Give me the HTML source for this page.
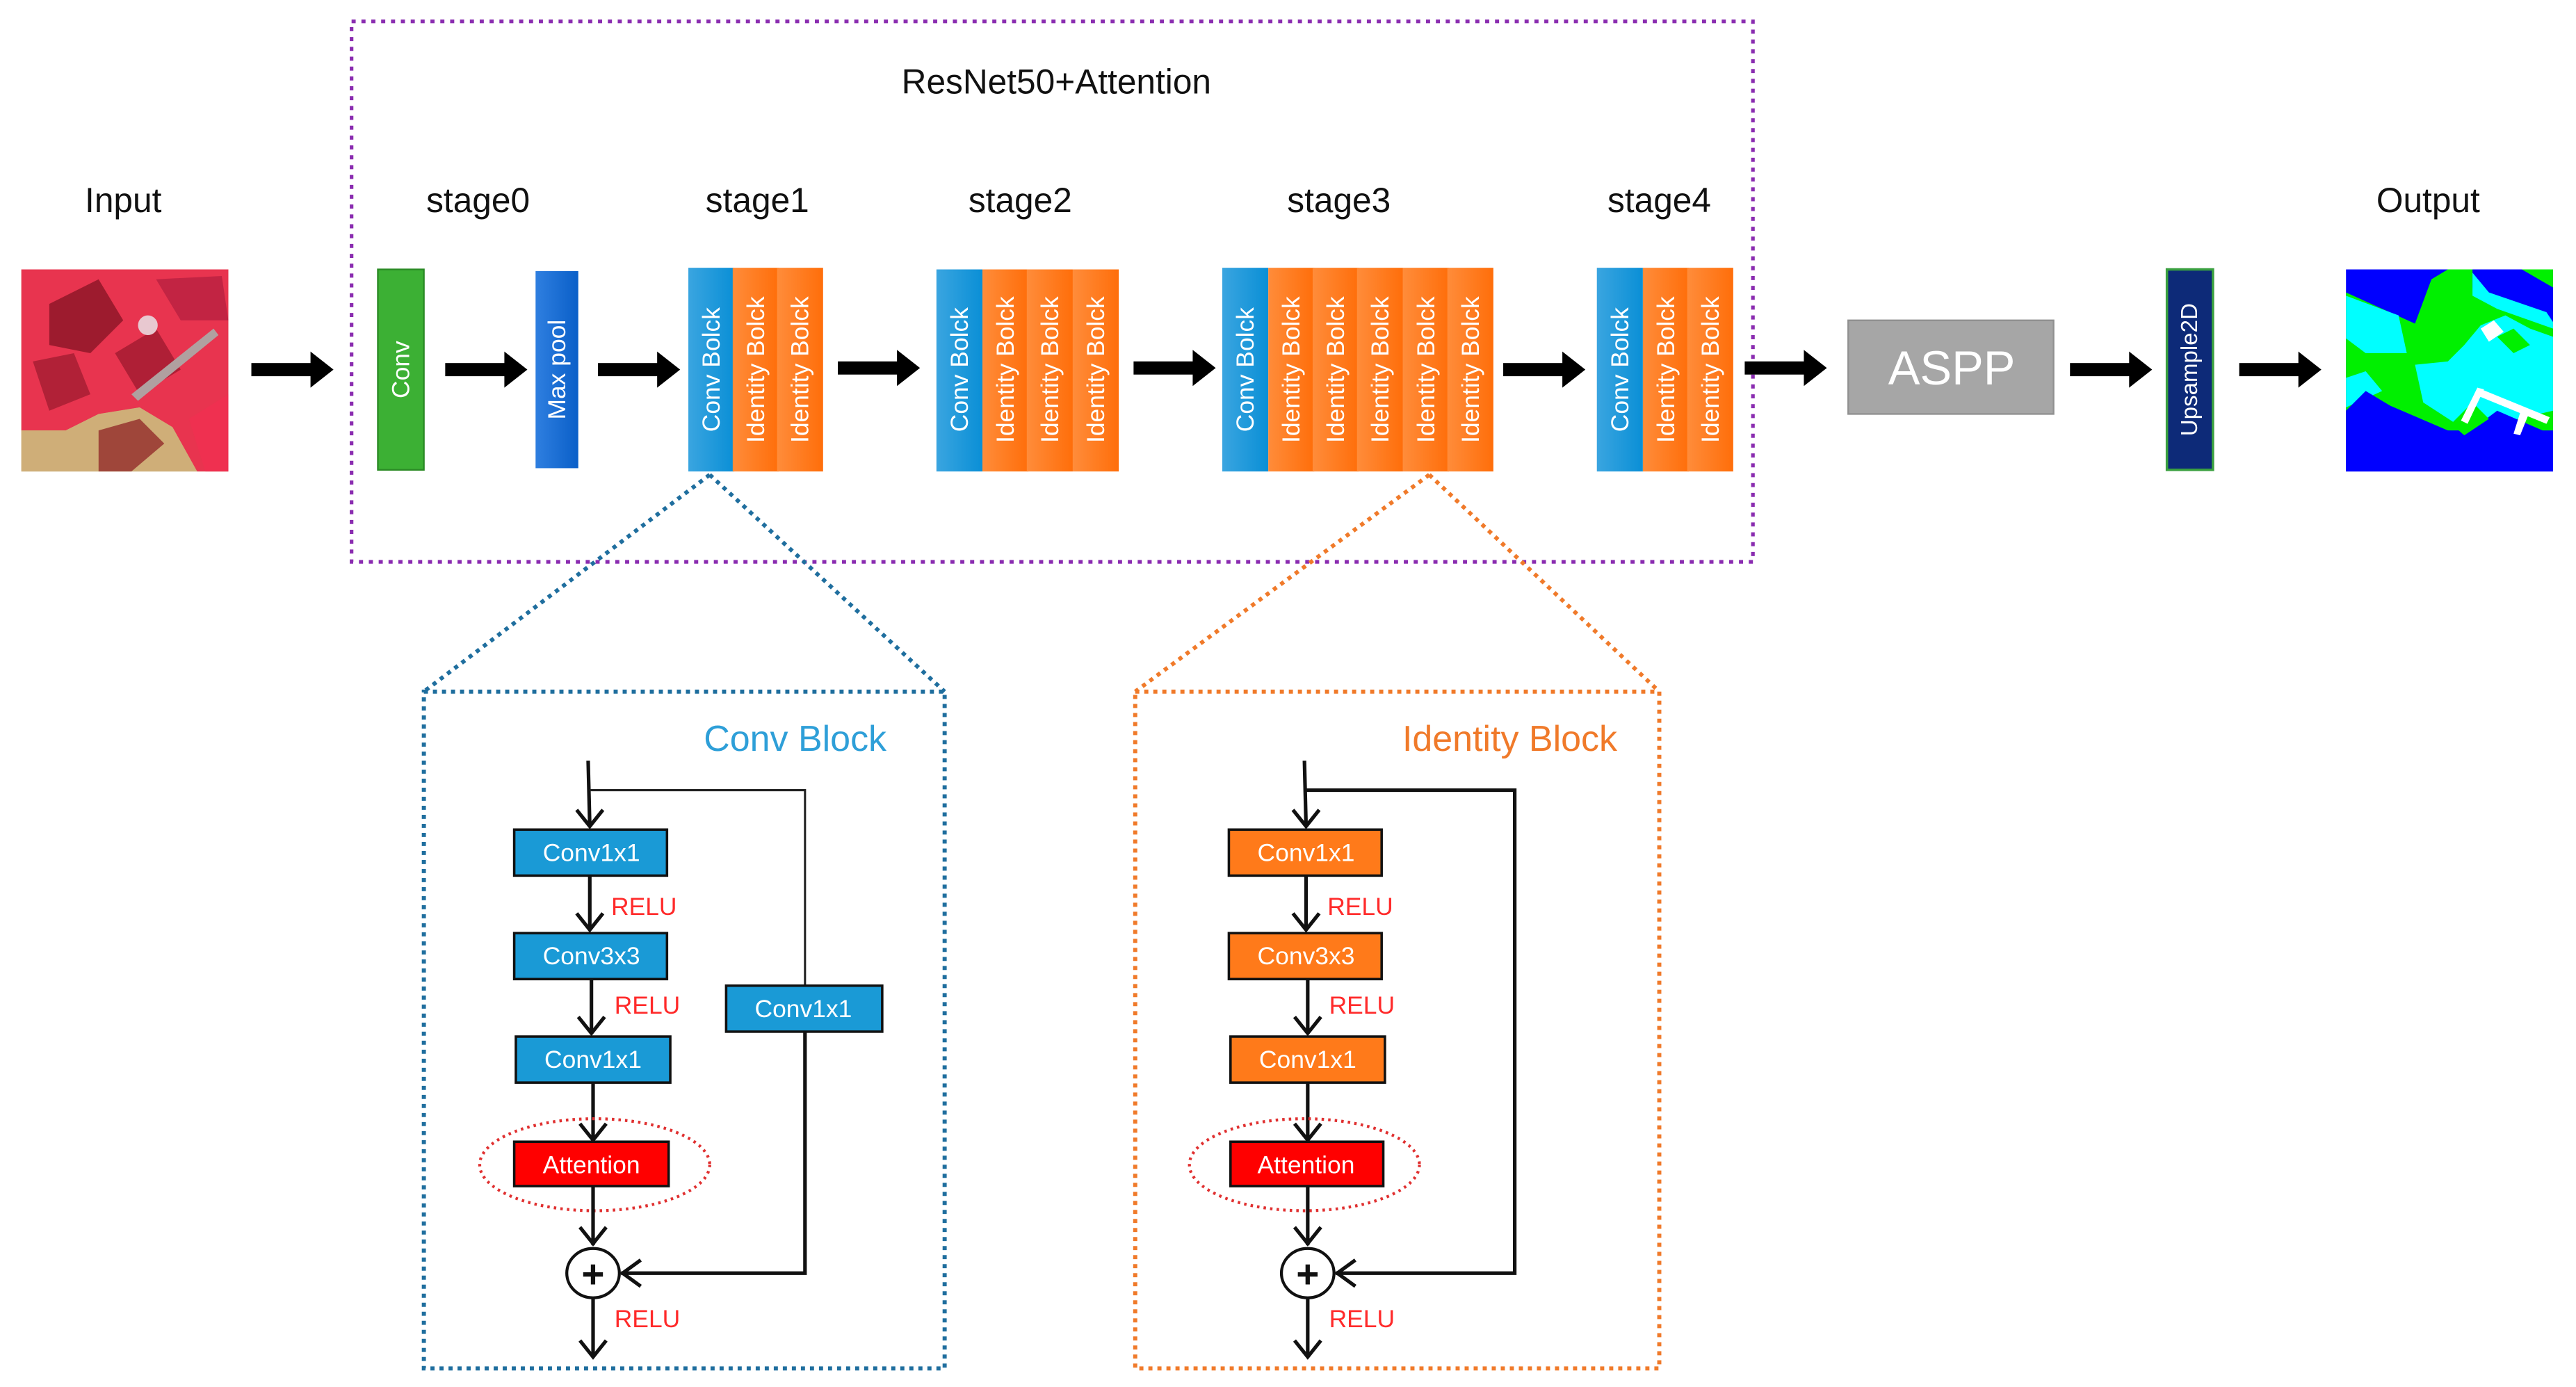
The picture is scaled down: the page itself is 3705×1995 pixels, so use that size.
<!DOCTYPE html>
<html><head><meta charset="utf-8"><style>
html,body{margin:0;padding:0;background:#fff;}
svg{display:block;}
text{font-family:"Liberation Sans",Arial,sans-serif;}
.vt{fill:#fff;font-size:15px;text-anchor:middle;dominant-baseline:central;}
.lbl{font-size:21px;text-anchor:middle;fill:#111;}
.bx{font-size:15px;fill:#fff;text-anchor:middle;dominant-baseline:central;}
.relu{font-size:15px;fill:#ff2a2a;}
.ln{stroke:#111;stroke-width:2.2;fill:none;}
.thin{stroke:#222;stroke-width:1.3;fill:none;}
</style></head><body>
<svg width="3705" height="1995" viewBox="0 0 1568 844.3" preserveAspectRatio="none" xmlns="http://www.w3.org/2000/svg">
<defs>
<linearGradient id="gb" x1="0" x2="1"><stop offset="0" stop-color="#3aa5e0"/><stop offset="1" stop-color="#0a8fd6"/></linearGradient>
<linearGradient id="go" x1="0" x2="1"><stop offset="0" stop-color="#ff8c3a"/><stop offset="1" stop-color="#ff6e0a"/></linearGradient>
<linearGradient id="gm" x1="0" x2="1"><stop offset="0" stop-color="#2f7fe0"/><stop offset="1" stop-color="#0a5fc8"/></linearGradient>
<g id="arr"><rect x="0" y="-4" width="38" height="8" fill="#000"/><polygon points="36,-11 50,0 36,11" fill="#000"/></g>
</defs>

<rect x="214" y="13" width="853" height="329" fill="none" stroke="#8a2cb0" stroke-width="2.2" stroke-dasharray="2.5,3.5"/>
<text x="643" y="57" class="lbl">ResNet50+Attention</text>

<text x="75" y="129" class="lbl">Input</text>
<text x="291" y="129" class="lbl">stage0</text>
<text x="461" y="129" class="lbl">stage1</text>
<text x="621" y="129" class="lbl">stage2</text>
<text x="815" y="129" class="lbl">stage3</text>
<text x="1010" y="129" class="lbl">stage4</text>
<text x="1478" y="129" class="lbl">Output</text>

<!-- input image -->
<g>
<rect x="13" y="164" width="126" height="123" fill="#c8a873"/>
<polygon points="13,164 139,164 139,287 120,287 105,260 85,248 60,252 40,262 13,262" fill="#e8344f"/>
<polygon points="13,262 40,262 60,252 85,248 105,260 120,287 13,287" fill="#cfae78"/>
<polygon points="30,185 60,170 75,195 55,215 30,210" fill="#8a1525" opacity="0.8"/>
<polygon points="20,220 45,215 55,240 30,250" fill="#9a1a2d" opacity="0.7"/>
<polygon points="70,215 95,200 110,225 85,240" fill="#a01a30" opacity="0.8"/>
<polygon points="95,170 135,168 139,195 110,195" fill="#b82040" opacity="0.8"/>
<polygon points="60,262 85,255 100,270 80,287 60,287" fill="#8a1a20" opacity="0.7"/>
<circle cx="90" cy="198" r="6" fill="#e8c8d0"/>
<polygon points="80,240 130,200 133,204 84,244" fill="#b0a0a0"/>
<polygon points="115,255 139,240 139,287 125,287" fill="#ef3050"/>
</g>

<use href="#arr" x="153" y="225"/>
<use href="#arr" x="271" y="225"/>
<use href="#arr" x="364" y="225"/>
<use href="#arr" x="510" y="224"/>
<use href="#arr" x="690" y="224"/>
<use href="#arr" x="915" y="225"/>
<use href="#arr" x="1062" y="224"/>
<use href="#arr" x="1260" y="225"/>
<use href="#arr" x="1363" y="225"/>

<rect x="230" y="164" width="28" height="122" fill="#3cb034" stroke="#2a8a25" stroke-width="1"/>
<text class="vt" transform="translate(244,225) rotate(-90)">Conv</text>
<rect x="326" y="165" width="26" height="120" fill="url(#gm)"/>
<text class="vt" transform="translate(339,225) rotate(-90)">Max pool</text>

<rect x="419" y="163" width="28" height="124" fill="url(#gb)"/>
<rect x="446" y="163" width="28" height="124" fill="url(#go)"/>
<rect x="473" y="163" width="28" height="124" fill="url(#go)"/>
<text class="vt" transform="translate(433,225) rotate(-90)">Conv Bolck</text>
<text class="vt" transform="translate(460,225) rotate(-90)">Identity Bolck</text>
<text class="vt" transform="translate(487,225) rotate(-90)">Identity Bolck</text>

<rect x="570" y="164" width="28" height="123" fill="url(#gb)"/>
<rect x="598" y="164" width="28" height="123" fill="url(#go)"/>
<rect x="625" y="164" width="28" height="123" fill="url(#go)"/>
<rect x="653" y="164" width="28" height="123" fill="url(#go)"/>
<text class="vt" transform="translate(584,225) rotate(-90)">Conv Bolck</text>
<text class="vt" transform="translate(612,225) rotate(-90)">Identity Bolck</text>
<text class="vt" transform="translate(639,225) rotate(-90)">Identity Bolck</text>
<text class="vt" transform="translate(667,225) rotate(-90)">Identity Bolck</text>

<rect x="744" y="163" width="28" height="124" fill="url(#gb)"/>
<rect x="772" y="163" width="28" height="124" fill="url(#go)"/>
<rect x="799" y="163" width="28" height="124" fill="url(#go)"/>
<rect x="826" y="163" width="28" height="124" fill="url(#go)"/>
<rect x="854" y="163" width="28" height="124" fill="url(#go)"/>
<rect x="881" y="163" width="28" height="124" fill="url(#go)"/>
<text class="vt" transform="translate(758,225) rotate(-90)">Conv Bolck</text>
<text class="vt" transform="translate(786,225) rotate(-90)">Identity Bolck</text>
<text class="vt" transform="translate(813,225) rotate(-90)">Identity Bolck</text>
<text class="vt" transform="translate(840,225) rotate(-90)">Identity Bolck</text>
<text class="vt" transform="translate(868,225) rotate(-90)">Identity Bolck</text>
<text class="vt" transform="translate(895,225) rotate(-90)">Identity Bolck</text>

<rect x="972" y="163" width="28" height="124" fill="url(#gb)"/>
<rect x="1000" y="163" width="28" height="124" fill="url(#go)"/>
<rect x="1027" y="163" width="28" height="124" fill="url(#go)"/>
<text class="vt" transform="translate(986,225) rotate(-90)">Conv Bolck</text>
<text class="vt" transform="translate(1014,225) rotate(-90)">Identity Bolck</text>
<text class="vt" transform="translate(1041,225) rotate(-90)">Identity Bolck</text>

<rect x="1125" y="195" width="125" height="57" fill="#a6a6a6" stroke="#909090" stroke-width="1"/>
<text x="1188" y="224" font-size="29" fill="#fff" text-anchor="middle" dominant-baseline="central">ASPP</text>

<rect x="1319" y="164" width="28" height="122" fill="#0d2a78" stroke="#3aa040" stroke-width="1.5"/>
<text class="vt" transform="translate(1333,225) rotate(-90)" style="font-size:14px">Upsample2D</text>

<!-- output image -->
<g>
<rect x="1428" y="164" width="126" height="123" fill="#0000ff"/>
<polygon points="1428,178 1470,197 1480,170 1490,164 1554,164 1554,262 1428,262" fill="#00f000"/>
<polygon points="1505,164 1535,164 1554,175 1554,196 1520,180 1505,175" fill="#0000ff"/>
<polygon points="1428,180 1460,192 1465,215 1440,215 1428,206" fill="#00ffff"/>
<polygon points="1505,166 1515,178 1550,190 1554,196 1554,200 1520,188 1505,180" fill="#00ffff"/>
<polygon points="1465,195 1490,164 1505,164 1505,178 1480,195" fill="#00ffff" opacity="0"/>
<polygon points="1510,198 1525,192 1540,200 1554,205 1554,250 1520,258 1495,258 1475,245 1470,222 1490,220 1500,210" fill="#00ffff"/>
<polygon points="1428,230 1440,226 1450,238 1428,248" fill="#00ffff"/>
<polygon points="1520,205 1530,200 1540,210 1530,215" fill="#00f000"/>
<polygon points="1428,250 1440,238 1455,247 1490,262 1500,265 1520,250 1550,263 1554,265 1554,287 1428,287" fill="#0000ff"/>
<polygon points="1492,258 1505,245 1515,255 1500,265" fill="#00f000"/>
<polygon points="1510,200 1518,195 1524,202 1515,208" fill="#fff"/>
<polygon points="1498,256 1508,236 1512,237 1502,258" fill="#fff"/>
<polygon points="1508,236 1552,254 1550,258 1506,240" fill="#fff"/>
<polygon points="1535,248 1540,250 1534,265 1530,264" fill="#fff"/>
</g>

<line x1="432" y1="289" x2="258" y2="421" stroke="#1f6e9e" stroke-width="2.5" stroke-dasharray="2.5,3"/>
<line x1="432" y1="289" x2="575" y2="421" stroke="#1f6e9e" stroke-width="2.5" stroke-dasharray="2.5,3"/>
<line x1="870" y1="289" x2="691" y2="421" stroke="#f07a2a" stroke-width="2.5" stroke-dasharray="2.5,3"/>
<line x1="870" y1="289" x2="1010" y2="421" stroke="#f07a2a" stroke-width="2.5" stroke-dasharray="2.5,3"/>

<rect x="258" y="421" width="317" height="412" fill="none" stroke="#1f6e9e" stroke-width="2.5" stroke-dasharray="2.5,3"/>
<text x="484" y="457" font-size="22" fill="#2e9fd8" text-anchor="middle">Conv Block</text>
<g>
<line class="ln" x1="358" y1="463" x2="359" y2="503"/>
<polyline class="ln" points="351,493 359,503 367,493"/>
<polyline class="thin" points="359,481 490,481 490,600"/>
<rect x="313" y="505" width="93" height="28" fill="#1a9ad6" stroke="#111" stroke-width="1.5"/>
<text x="360" y="519" class="bx">Conv1x1</text>
<line class="ln" x1="359" y1="533" x2="359" y2="566"/>
<polyline class="ln" points="351,556 359,566 367,556"/>
<text x="372" y="557" class="relu">RELU</text>
<rect x="313" y="568" width="93" height="28" fill="#1a9ad6" stroke="#111" stroke-width="1.5"/>
<text x="360" y="582" class="bx">Conv3x3</text>
<line class="ln" x1="360" y1="596" x2="360" y2="629"/>
<polyline class="ln" points="352,619 360,629 368,619"/>
<text x="374" y="617" class="relu">RELU</text>
<rect x="314" y="631" width="94" height="28" fill="#1a9ad6" stroke="#111" stroke-width="1.5"/>
<text x="361" y="645" class="bx">Conv1x1</text>
<rect x="442" y="600" width="95" height="28" fill="#1a9ad6" stroke="#111" stroke-width="1.5"/>
<text x="489" y="614" class="bx">Conv1x1</text>
<line class="ln" x1="361" y1="659" x2="361" y2="694"/>
<polyline class="ln" points="353,684 361,694 369,684"/>
<rect x="313" y="695" width="94" height="27" fill="#ff0000" stroke="#111" stroke-width="1.5"/>
<text x="360" y="709" class="bx">Attention</text>
<ellipse cx="362" cy="709" rx="70" ry="28" fill="none" stroke="#e03030" stroke-width="1.8" stroke-dasharray="1.5,2.5"/>
<line class="ln" x1="361" y1="722" x2="361" y2="758"/>
<polyline class="ln" points="353,747 361,757 369,747"/>
<ellipse cx="361" cy="775" rx="16" ry="15" fill="#fff" stroke="#111" stroke-width="1.8"/>
<text x="361" y="776" font-size="24" font-weight="bold" text-anchor="middle" dominant-baseline="central" fill="#111">+</text>
<polyline class="ln" points="490,628 490,775 378,775"/>
<polyline class="ln" points="390,767 379,775 390,783"/>
<line class="ln" x1="361" y1="790" x2="361" y2="826"/>
<polyline class="ln" points="353,816 361,826 369,816"/>
<text x="374" y="808" class="relu">RELU</text>
</g>

<rect x="691" y="421" width="319" height="412" fill="none" stroke="#f07a2a" stroke-width="2.5" stroke-dasharray="2.5,3"/>
<text x="919" y="457" font-size="22" fill="#f07a2a" text-anchor="middle">Identity Block</text>
<g>
<line class="ln" x1="794" y1="463" x2="795" y2="503"/>
<polyline class="ln" points="787,493 795,503 803,493"/>
<polyline class="ln" points="795,481 922,481 922,775 813,775"/>
<polyline class="ln" points="825,767 814,775 825,783"/>
<rect x="748" y="505" width="93" height="28" fill="#ff7a1a" stroke="#111" stroke-width="1.5"/>
<text x="795" y="519" class="bx">Conv1x1</text>
<line class="ln" x1="795" y1="533" x2="795" y2="566"/>
<polyline class="ln" points="787,556 795,566 803,556"/>
<text x="808" y="557" class="relu">RELU</text>
<rect x="748" y="568" width="93" height="28" fill="#ff7a1a" stroke="#111" stroke-width="1.5"/>
<text x="795" y="582" class="bx">Conv3x3</text>
<line class="ln" x1="796" y1="596" x2="796" y2="629"/>
<polyline class="ln" points="788,619 796,629 804,619"/>
<text x="809" y="617" class="relu">RELU</text>
<rect x="749" y="631" width="94" height="28" fill="#ff7a1a" stroke="#111" stroke-width="1.5"/>
<text x="796" y="645" class="bx">Conv1x1</text>
<line class="ln" x1="796" y1="659" x2="796" y2="694"/>
<polyline class="ln" points="788,684 796,694 804,684"/>
<rect x="749" y="695" width="93" height="27" fill="#ff0000" stroke="#111" stroke-width="1.5"/>
<text x="795" y="709" class="bx">Attention</text>
<ellipse cx="794" cy="709" rx="70" ry="28" fill="none" stroke="#e03030" stroke-width="1.8" stroke-dasharray="1.5,2.5"/>
<line class="ln" x1="796" y1="722" x2="796" y2="758"/>
<polyline class="ln" points="788,747 796,757 804,747"/>
<ellipse cx="796" cy="775" rx="16" ry="15" fill="#fff" stroke="#111" stroke-width="1.8"/>
<text x="796" y="776" font-size="24" font-weight="bold" text-anchor="middle" dominant-baseline="central" fill="#111">+</text>
<line class="ln" x1="796" y1="790" x2="796" y2="826"/>
<polyline class="ln" points="788,816 796,826 804,816"/>
<text x="809" y="808" class="relu">RELU</text>
</g>
</svg>
</body></html>
